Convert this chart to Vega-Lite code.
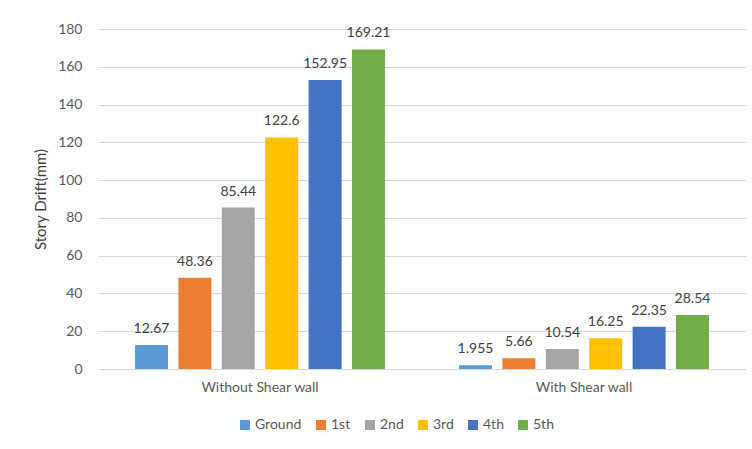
{
  "$schema": "https://vega.github.io/schema/vega-lite/v6.json",
  "width": 648,
  "height": 340,
  "autosize": {"type": "none"},
  "padding": {"left": 98, "top": 29, "right": 6, "bottom": 80},
  "background": "white",
  "config": {
    "view": {"stroke": null},
    "font": "Lato"
  },
  "data": {
    "values": [
      {"case": "Without Shear wall", "story": "Ground", "drift": 12.67, "label": "12.67"},
      {"case": "Without Shear wall", "story": "1st", "drift": 48.36, "label": "48.36"},
      {"case": "Without Shear wall", "story": "2nd", "drift": 85.44, "label": "85.44"},
      {"case": "Without Shear wall", "story": "3rd", "drift": 122.6, "label": "122.6"},
      {"case": "Without Shear wall", "story": "4th", "drift": 152.95, "label": "152.95"},
      {"case": "Without Shear wall", "story": "5th", "drift": 169.21, "label": "169.21"},
      {"case": "With Shear wall", "story": "Ground", "drift": 1.955, "label": "1.955"},
      {"case": "With Shear wall", "story": "1st", "drift": 5.66, "label": "5.66"},
      {"case": "With Shear wall", "story": "2nd", "drift": 10.54, "label": "10.54"},
      {"case": "With Shear wall", "story": "3rd", "drift": 16.25, "label": "16.25"},
      {"case": "With Shear wall", "story": "4th", "drift": 22.35, "label": "22.35"},
      {"case": "With Shear wall", "story": "5th", "drift": 28.54, "label": "28.54"}
    ]
  },
  "encoding": {
    "x": {
      "field": "case",
      "type": "nominal",
      "sort": ["Without Shear wall", "With Shear wall"],
      "scale": {"paddingInner": 0, "paddingOuter": 0},
      "axis": {
        "title": null,
        "labelAngle": 0,
        "ticks": false,
        "domain": true,
        "domainColor": "#d9d9d9",
        "domainWidth": 1,
        "labelPadding": 11,
        "labelFontSize": 14,
        "labelColor": "#595959",
        "labelFont": "Lato"
      }
    },
    "xOffset": {
      "field": "story",
      "type": "nominal",
      "sort": ["Ground", "1st", "2nd", "3rd", "4th", "5th"],
      "scale": {"paddingInner": 0.24, "paddingOuter": 0.853}
    },
    "y": {
      "field": "drift",
      "type": "quantitative",
      "scale": {"domain": [0, 180], "nice": false},
      "axis": {
        "title": "Story Drift(mm)",
        "values": [0, 20, 40, 60, 80, 100, 120, 140, 160, 180],
        "ticks": false,
        "domain": false,
        "grid": true,
        "gridColor": "#d9d9d9",
        "gridWidth": 1,
        "labelPadding": 16,
        "labelFontSize": 14,
        "labelColor": "#595959",
        "labelFont": "Lato",
        "titleFontSize": 15,
        "titleFontWeight": "normal",
        "titleColor": "#404040",
        "titleFont": "Lato",
        "titlePadding": 9
      }
    }
  },
  "layer": [
    {
      "mark": {"type": "bar"},
      "encoding": {
        "color": {
          "field": "story",
          "type": "nominal",
          "sort": ["Ground", "1st", "2nd", "3rd", "4th", "5th"],
          "scale": {
            "domain": ["Ground", "1st", "2nd", "3rd", "4th", "5th"],
            "range": ["#5B9BD5", "#ED7D31", "#A5A5A5", "#FFC000", "#4472C4", "#70AD47"]
          },
          "legend": {
            "title": null,
            "orient": "none",
            "direction": "horizontal",
            "legendX": 140,
            "legendY": 389,
            "padding": 0,
            "symbolType": "square",
            "symbolSize": 100,
            "symbolStrokeWidth": 0,
            "labelFontSize": 14,
            "labelColor": "#595959",
            "labelFont": "Lato",
            "labelOffset": 3,
            "columnPadding": 12
          }
        }
      }
    },
    {
      "mark": {"type": "text", "baseline": "alphabetic", "dy": -12, "fontSize": 14, "color": "#404040", "font": "Lato"},
      "encoding": {
        "text": {"field": "label", "type": "nominal"}
      }
    }
  ]
}
